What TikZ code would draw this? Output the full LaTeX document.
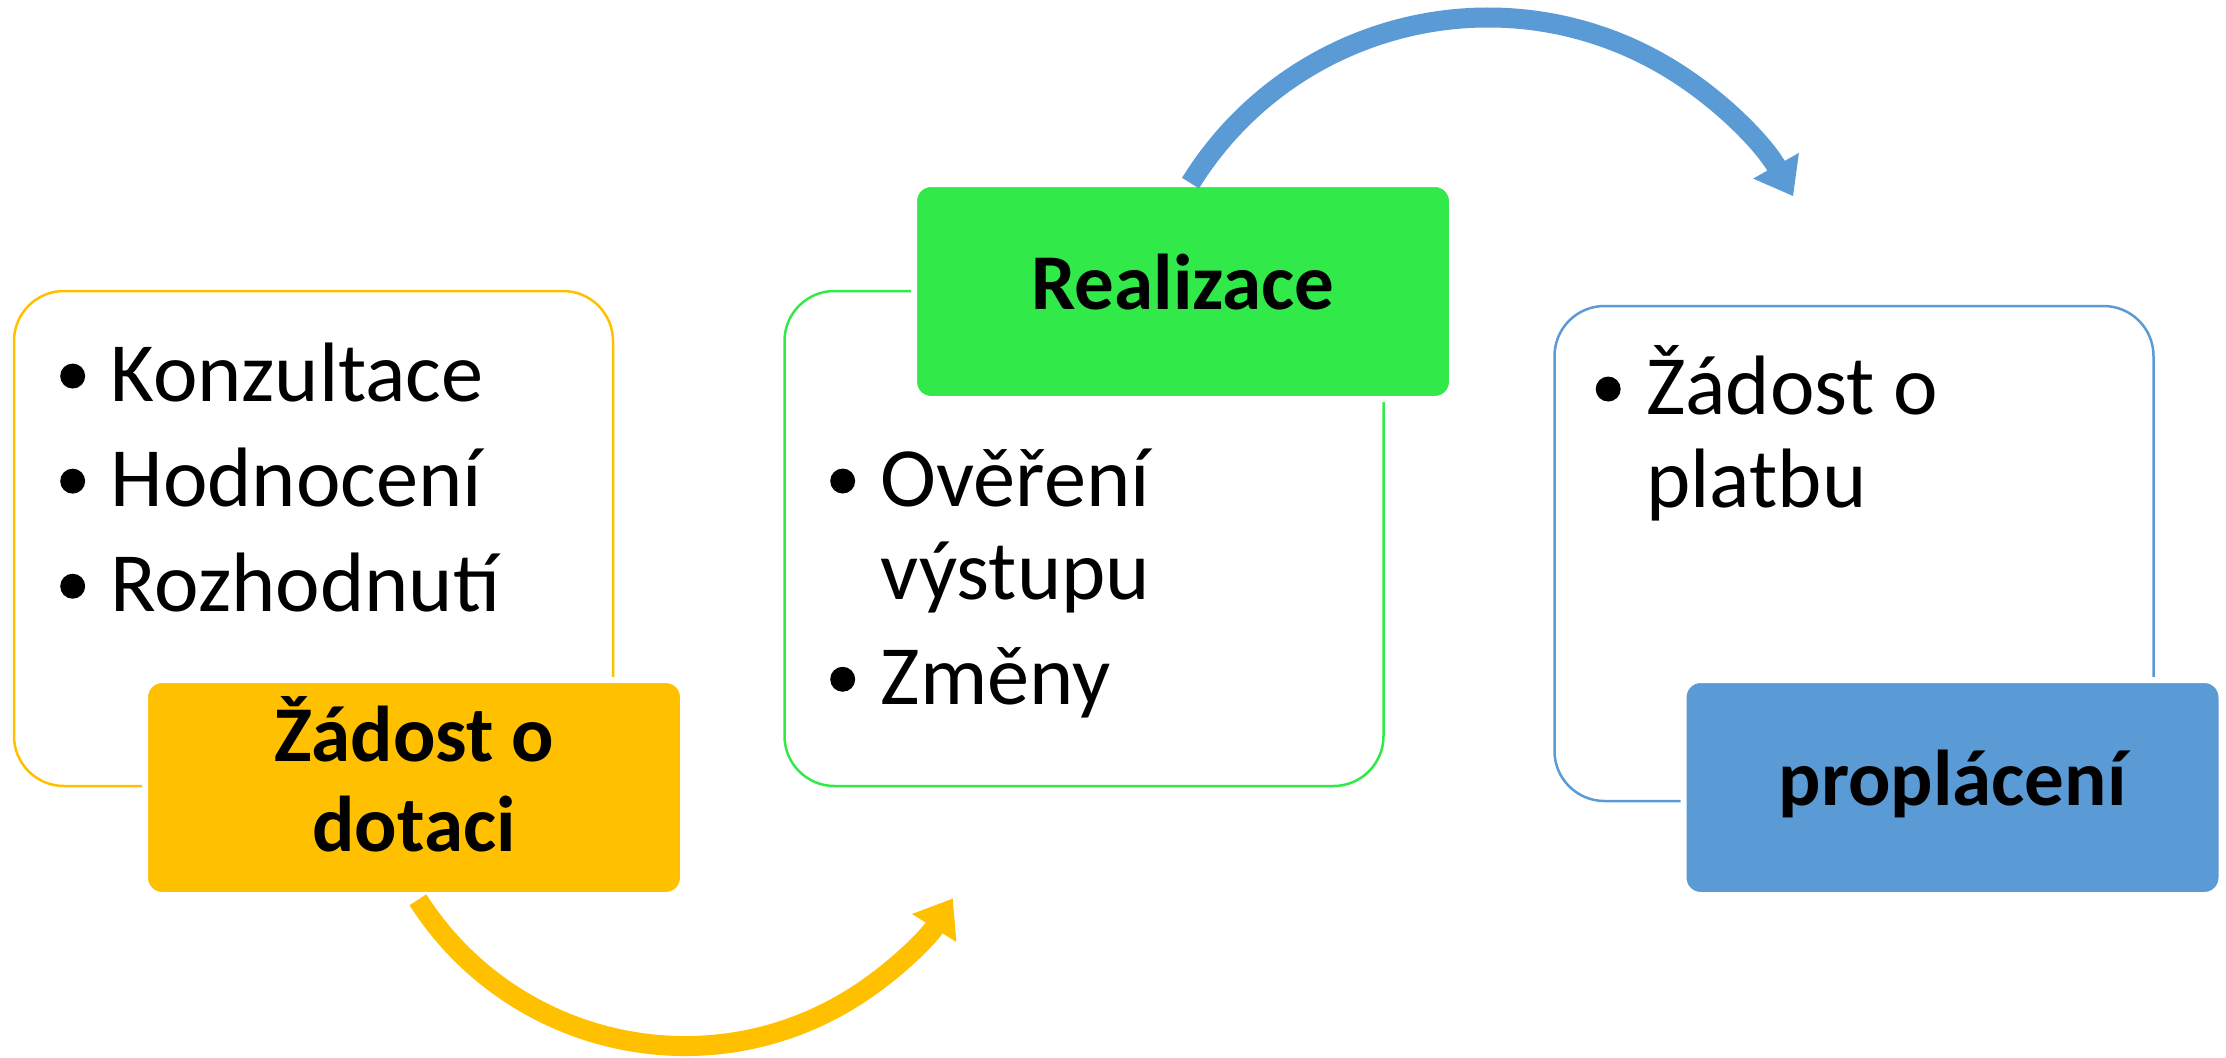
\documentclass[tikz,border=0pt]{standalone}
\usepackage{fontspec}
\setmainfont{Carlito}
\usetikzlibrary{arrows.meta,positioning}
\definecolor{gold}{RGB}{255,192,0}
\definecolor{lgreen}{RGB}{50,233,74}
\definecolor{sky}{RGB}{91,155,213}
\newcommand{\blt}{\tikz[baseline=0pt]\fill (0,7.1pt) circle[radius=3.55pt];}
\newcommand{\itm}[1]{\makebox[5.05mm][l]{\blt}&#1}

\begin{document}
\begin{tikzpicture}[x=0.1mm, y=0.1mm,
	frame/.style={draw, line width=0.25mm, rounded corners=5mm,
	              minimum width=59.9mm, minimum height=49.5mm},
	tag/.style={draw=white, line width=0.6mm, rounded corners=1.7mm,
	            minimum width=53.8mm, minimum height=21.5mm, inner sep=0,
	            align=center, font=\bfseries\fontsize{22.5}{25.5}\selectfont},
	list/.style={anchor=base west, inner sep=0, font=\fontsize{24}{26.5}\selectfont},
	arr/.style={line width=2mm, -{Triangle[length=3.5mm, width=5mm]}}]

	\useasboundingbox (0,0) rectangle (2226,1057);

	\node[frame, draw=gold]   (frm1) at (313.5,518.5) {};
	\node[frame, draw=lgreen] (frm2) at (1084,518.5)  {};
	\node[frame, draw=sky]    (frm3) at (1854,503.5)  {};

	\node[list] (txt1) at (59.5,656) {\begin{tabular}[t]{@{}l@{}l@{}}
		\itm{Konzultace}\\[3.4pt] \itm{Hodnocení}\\[3.4pt] \itm{Rozhodnutí}
	\end{tabular}};
	\node[list] (txt2) at (829.5,551) {\begin{tabular}[t]{@{}l@{}l@{}}
		\itm{Ověření}\\ & výstupu\\[3.4pt] \itm{Změny}
	\end{tabular}};
	\node[list] (txt3) at (1595,643) {\begin{tabular}[t]{@{}l@{}l@{}}
		\itm{Žádost o}\\ & platbu
	\end{tabular}};

	\node[tag, fill=gold]   (tag1) at (414,269.5)   {Žádost o\strut\\dotaci\strut};
	\node[tag, fill=lgreen] (tag2) at (1183,765.5)  {Realizace\strut};
	\node[tag, fill=sky]    (tag3) at (1952.5,269.5) {proplácení\strut};

	\coordinate (s1) at (417.9,157.2);
	\coordinate (s2) at (1190.5,873.9);
	\draw[arr, draw=gold] (s1) arc[start angle=212.6, end angle=327.7, radius=317];
	\draw[arr, draw=sky]  (s2) arc[start angle=148.2, end angle=29.3, radius=350];
\end{tikzpicture}
\end{document}
